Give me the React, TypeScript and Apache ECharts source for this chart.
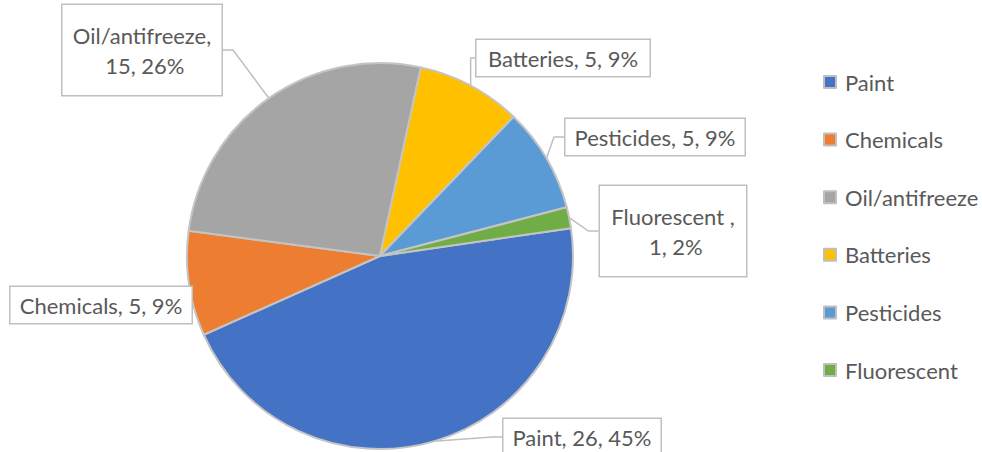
import React, { useEffect, useRef } from "react";
import * as echarts from "echarts";

const categories = ["Paint", "Chemicals", "Oil/antifreeze", "Batteries", "Pesticides", "Fluorescent "];
const values = [26, 5, 15, 5, 5, 1];
const percentLabels = ["45%", "9%", "26%", "9%", "9%", "2%"];
const colors = ["#4472C4", "#ED7D31", "#A5A5A5", "#FFC000", "#5B9BD5", "#70AD47"];

// label box centers and text widths (layout)
const labelCenters: [number, number][] = [
  [582, 437],
  [101, 305],
  [142, 50],
  [563, 58],
  [655, 137],
  [673, 231],
];
const labelWidths = [139, 163, 141, 155, 161, 128];
const wrapped = [false, false, true, false, false, true];

const FONT = "Lato, 'Open Sans', sans-serif";

export default function App() {
  const ref = useRef<HTMLDivElement>(null);
  useEffect(() => {
    document.body.style.margin = "0";
    const chart = echarts.init(ref.current!, null, { renderer: "svg" });
    chart.setOption({
      animation: false,
      color: colors,
      textStyle: { fontFamily: FONT },
      legend: {
        orient: "vertical",
        left: 823,
        top: 71,
        padding: 0,
        icon: "rect",
        itemWidth: 12,
        itemHeight: 12,
        itemGap: 35.6,
        itemStyle: { borderColor: "#bfbfbf", borderWidth: 2 },
        textStyle: { fontSize: 22, color: "#595959", fontFamily: FONT, padding: [0, 0, 0, 4] },
        formatter: (n: string) => n.trim(),
        data: categories,
      },
      series: [
        {
          type: "pie",
          center: [380, 256],
          radius: 193,
          startAngle: 8.3,
          clockwise: true,
          itemStyle: { borderColor: "#c4c4c4", borderWidth: 2 },
          emphasis: { disabled: true },
          label: {
            show: true,
            position: "outside",
            fontSize: 22,
            color: "#595959",
            fontFamily: FONT,
            backgroundColor: "#ffffff",
            borderColor: "#bfbfbf",
            borderWidth: 1.5,
            padding: [7, 9],
            align: "center",
            overflow: "none",
            formatter: (p: any) => `${p.name}, ${p.value}, ${percentLabels[p.dataIndex]}`,
          },
          labelLine: {
            show: true,
            length: 10,
            length2: 10,
            lineStyle: { color: "#bfbfbf", width: 1.5 },
          },
          labelLayout: (p: any) => ({
            x: labelCenters[p.dataIndex][0],
            y: labelCenters[p.dataIndex][1],
            align: "center",
            verticalAlign: "middle",
          }),
          data: categories.map((name, i) => {
            const item: any = { name, value: values[i] };
            item.label = wrapped[i]
              ? { width: labelWidths[i], overflow: "break", lineHeight: 30, padding: [15, 9] }
              : { width: labelWidths[i], overflow: "none" };
            return item;
          }),
        },
      ],
    });
    return () => chart.dispose();
  }, []);
  return <div ref={ref} style={{ width: 982, height: 452 }} />;
}
